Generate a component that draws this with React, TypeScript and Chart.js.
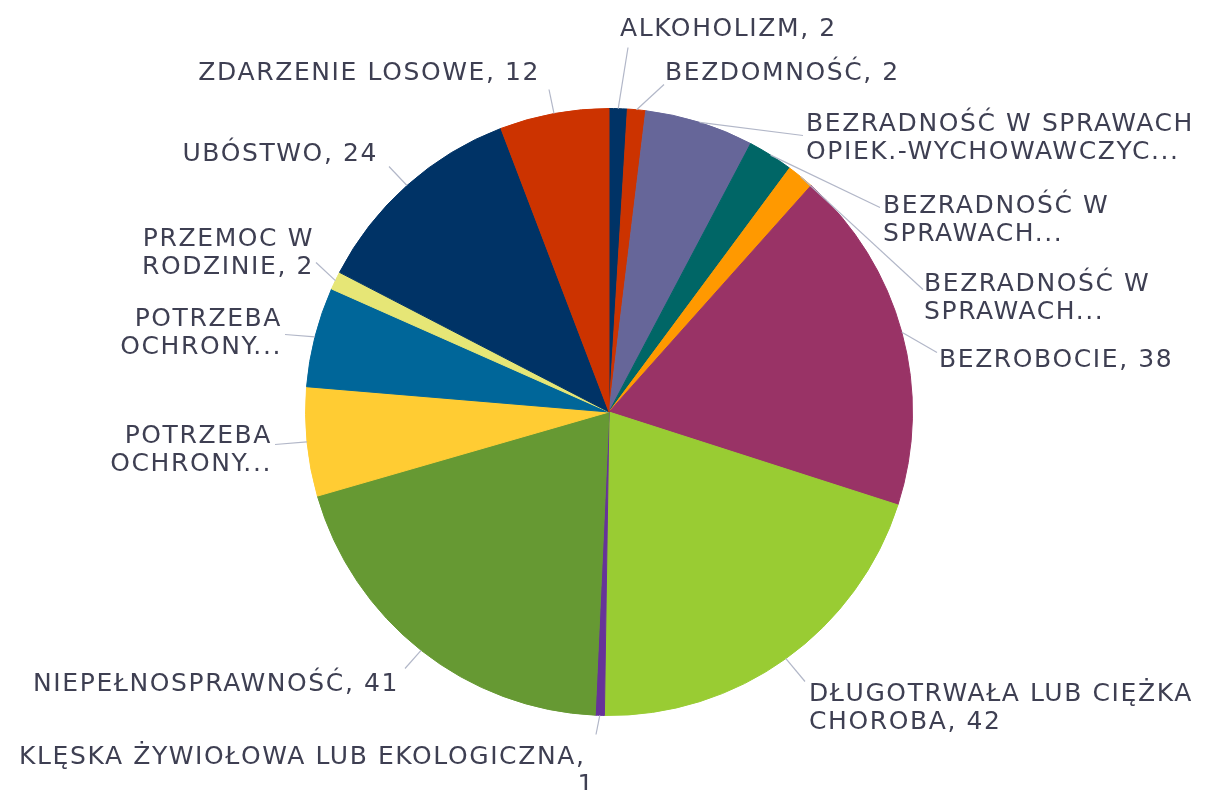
import React, { useEffect, useRef } from "react";
import { Chart, registerables } from "chart.js";

Chart.register(...registerables);

// Categories (as displayed, with line breaks)
const categories: string[][] = [
  ["ALKOHOLIZM, 2"],
  ["BEZDOMNOŚĆ, 2"],
  ["BEZRADNOŚĆ W SPRAWACH", "OPIEK.-WYCHOWAWCZYC..."],
  ["BEZRADNOŚĆ W", "SPRAWACH..."],
  ["BEZRADNOŚĆ W", "SPRAWACH..."],
  ["BEZROBOCIE, 38"],
  ["DŁUGOTRWAŁA LUB CIĘŻKA", "CHOROBA, 42"],
  ["KLĘSKA ŻYWIOŁOWA LUB EKOLOGICZNA, ", "1"],
  ["NIEPEŁNOSPRAWNOŚĆ, 41"],
  ["POTRZEBA", "OCHRONY..."],
  ["POTRZEBA", "OCHRONY..."],
  ["PRZEMOC W", "RODZINIE, 2"],
  ["UBÓSTWO, 24"],
  ["ZDARZENIE LOSOWE, 12"],
];

// Values
const values: number[] = [2, 2, 12, 5, 3, 38, 42, 1, 41, 12, 11, 2, 24, 12];

// Slice colours
const colors: string[] = [
  "#003366",
  "#CC3300",
  "#666699",
  "#006666",
  "#FF9900",
  "#993366",
  "#99CC33",
  "#663399",
  "#669933",
  "#FFCC33",
  "#006699",
  "#E6E676",
  "#003366",
  "#CC3300",
];

// Label layout, relative to pie centre: leader-line end, text anchor x, first line centre y, alignment
type LabelPos = { lx: number; ly: number; tx: number; ty: number; align: "left" | "right" };
const labelLayout: LabelPos[] = [
  { lx: 19, ly: -364.5, tx: 11, ty: -385, align: "left" },
  { lx: 55, ly: -327.5, tx: 56, ty: -341.5, align: "left" },
  { lx: 194, ly: -276.5, tx: 197, ty: -290, align: "left" },
  { lx: 271, ly: -204.5, tx: 274, ty: -208.5, align: "left" },
  { lx: 314, ly: -122.5, tx: 315, ty: -130, align: "left" },
  { lx: 328, ly: -59.5, tx: 330, ty: -54.5, align: "left" },
  { lx: 196, ly: 269.5, tx: 200, ty: 279.5, align: "left" },
  { lx: -13, ly: 322.5, tx: -14, ty: 342.5, align: "right" },
  { lx: -204, ly: 256.5, tx: -210, ty: 270, align: "right" },
  { lx: -334, ly: 32.5, tx: -337, ty: 21.5, align: "right" },
  { lx: -324, ly: -77.5, tx: -327, ty: -95, align: "right" },
  { lx: -293, ly: -149.5, tx: -295, ty: -175.5, align: "right" },
  { lx: -220, ly: -245.5, tx: -231, ty: -260, align: "right" },
  { lx: -60, ly: -322.5, tx: -69, ty: -341, align: "right" },
];

const FONT_SIZE = 25;
const LINE_H = 28;
const CAP_H = 18;

const outLabels = {
  id: "outLabels",
  afterDatasetsDraw(chart: any) {
    const meta = chart.getDatasetMeta(0);
    const ctx: any = chart.ctx;
    ctx.save();
    meta.data.forEach((arc: any, i: number) => {
      const p = arc.getProps(["x", "y", "startAngle", "endAngle", "outerRadius"], true);
      const mid = (p.startAngle + p.endAngle) / 2;
      const sx = p.x + Math.cos(mid) * p.outerRadius;
      const sy = p.y + Math.sin(mid) * p.outerRadius;
      const L = labelLayout[i];
      ctx.strokeStyle = "#b2b7c8";
      ctx.lineWidth = 1.2;
      ctx.beginPath();
      ctx.moveTo(sx, sy);
      ctx.lineTo(p.x + L.lx, p.y + L.ly);
      ctx.stroke();

      ctx.fillStyle = "#3e3f52";
      ctx.font = `${FONT_SIZE}px "DejaVu Sans"`;
      ctx.letterSpacing = "1.6px";
      ctx.textAlign = L.align;
      ctx.textBaseline = "alphabetic";
      categories[i].forEach((line, k) => {
        ctx.fillText(line, p.x + L.tx, p.y + L.ty + k * LINE_H + CAP_H / 2);
      });
    });
    ctx.restore();
  },
};

export default function App() {
  const ref = useRef<HTMLCanvasElement | null>(null);
  useEffect(() => {
    if (!ref.current) return;
    const chart = new Chart(ref.current, {
      type: "pie",
      data: {
        labels: categories.map((c) => c.join(" ")),
        datasets: [
          {
            data: values,
            backgroundColor: colors,
            borderColor: colors,
            borderWidth: 1,
          },
        ],
      },
      options: {
        responsive: false,
        animation: false,
        layout: { padding: { left: 305, right: 294, top: 108, bottom: 74 } },
        plugins: {
          legend: { display: false },
          tooltip: { enabled: false },
        },
      },
      plugins: [outLabels],
    });
    return () => chart.destroy();
  }, []);
  return (
    <div style={{ position: "fixed", left: 0, top: 0, width: 1207, height: 790, background: "#fff" }}>
      <canvas ref={ref} width={1207} height={790} />
    </div>
  );
}
